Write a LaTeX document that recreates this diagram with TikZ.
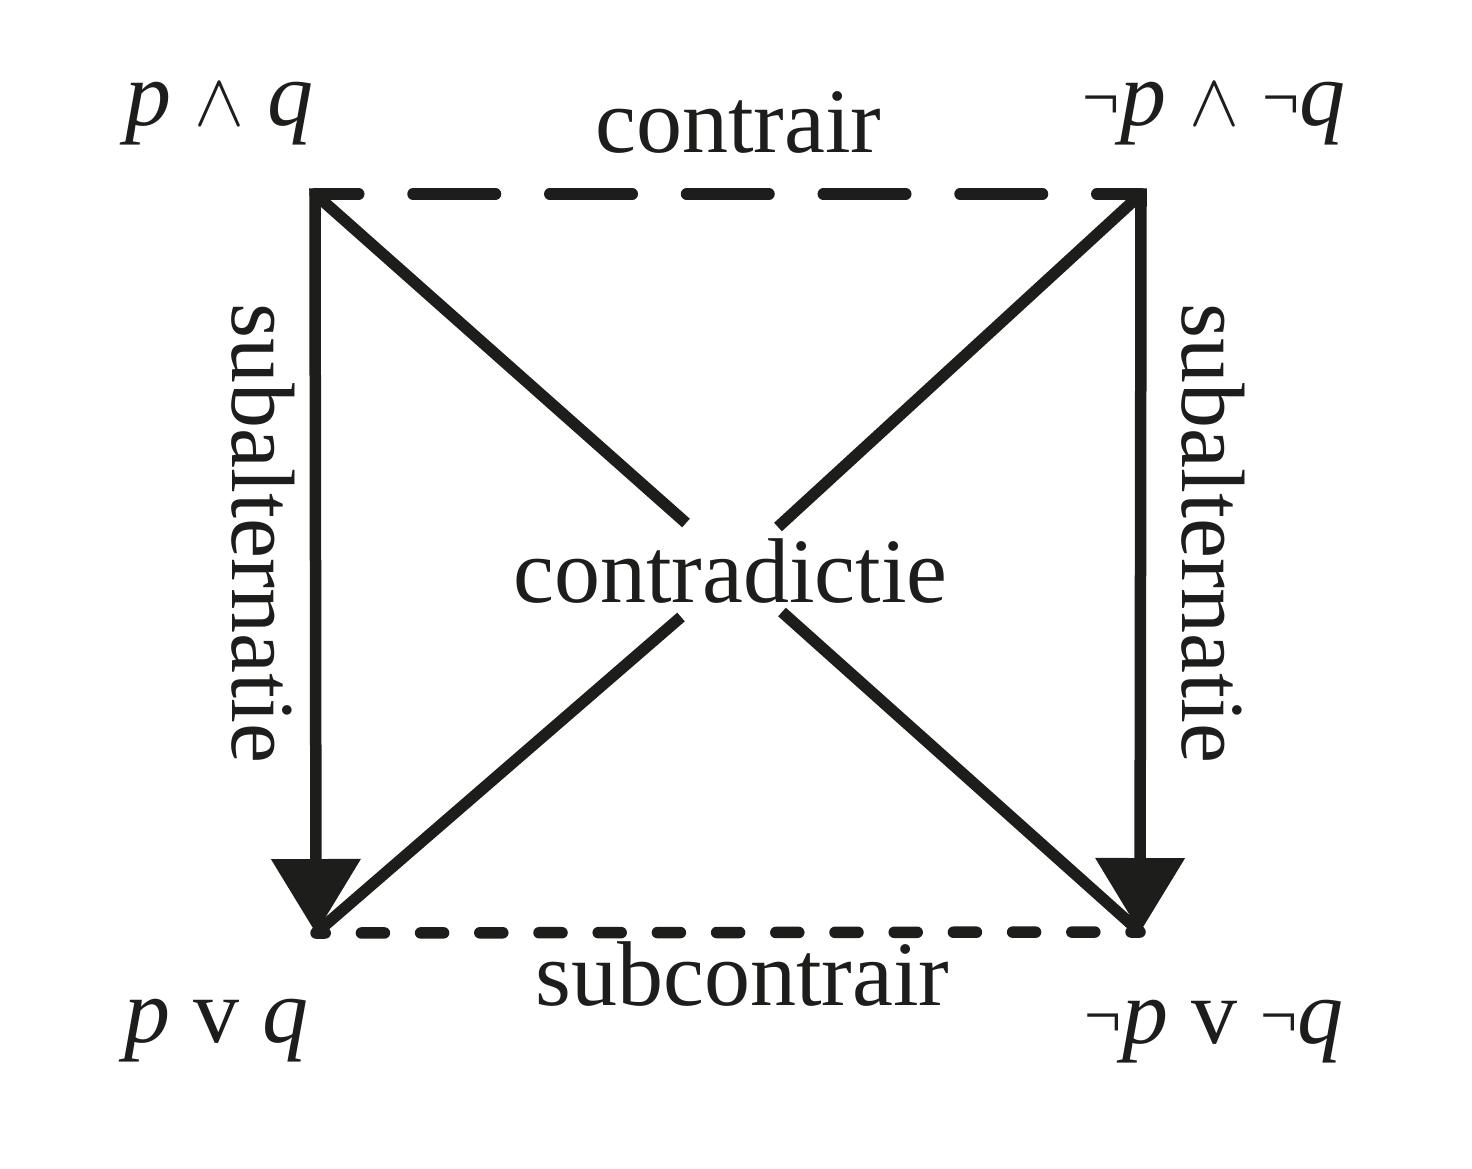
\RequirePackage{fix-cm}
\documentclass[tikz,border=0pt]{standalone}
\usepackage{fontspec}
\setmainfont{Liberation Serif}
\usetikzlibrary{arrows.meta}
\definecolor{ink}{RGB}{29,29,27}
\newcommand\ngs{\raisebox{6bp}{\fontsize{66bp}{70bp}\selectfont ¬}}
\newcommand\wdg{{\fontsize{75bp}{80bp}\selectfont$\wedge$}}
\begin{document}
\begin{tikzpicture}[x=1bp,y=-1bp,
  lbl/.style={inner sep=0pt, text=ink, font=\fontsize{92bp}{110bp}\selectfont},
  edge/.style={line width=11.5bp, draw=ink},
  topdash/.style={edge, line cap=round, dash pattern=on 82.5bp off 54.25bp, dash phase=38.75bp},
  botdash/.style={edge, line cap=round, dash pattern=on 23bp off 36.2bp, dash phase=13.8bp},
  subarrow/.style={edge, line cap=rect, -{Triangle[width=90bp,length=74bp,line width=0pt]}}]
\useasboundingbox (0,0) rectangle (1472,1168);
\fill[white] (0,0) rectangle (1472,1168);
% corners
\coordinate (TL) at (315,194);
\coordinate (TR) at (1141,194);
\coordinate (BL) at (316,933);
\coordinate (BR) at (1140,932);
% inner ends of the diagonals
\coordinate (cTL) at (686,523);
\coordinate (cTR) at (778,527);
\coordinate (cBL) at (681,617);
\coordinate (cBR) at (782,612);
% connectors
\draw[topdash] (TL) -- (TR);
\draw[botdash] (BL) -- (BR);
\draw[edge] (TL) -- (cTL);
\draw[edge] (TR) -- (cTR);
\draw[edge] (cBL) -- (BL);
\draw[edge] (cBR) -- (BR);
\draw[subarrow] (TL) -- (BL);
\draw[subarrow] (TR) -- (BR);
% labels
\node[lbl, anchor=base] (pq) at (219,125) {\textit{p} \wdg\ \textit{q}};
\node[lbl, anchor=base] (npnq) at (1214,125) {\ngs\textit{p} \wdg\ \ngs\textit{q}};
\node[lbl, anchor=base] (porq) at (216,1042) {\textit{p} v \textit{q}};
\node[lbl, anchor=base] (nporq) at (1214,1043) {\ngs\textit{p} v \ngs\textit{q}};
\node[lbl, anchor=base] (contrair) at (738.5,152) {contrair};
\node[lbl, anchor=base] (contradictie) at (730.5,602) {contradictie};
\node[lbl, anchor=base] (subcontrair) at (742.5,1005) {subcontrair};
\node[lbl, anchor=base, rotate=-90, font=\fontsize{90bp}{110bp}\selectfont] (subL) at (232,533) {subalternatie};
\node[lbl, anchor=base, rotate=-90, font=\fontsize{90bp}{110bp}\selectfont] (subR) at (1182,533) {subalternatie};
\end{tikzpicture}
\end{document}
